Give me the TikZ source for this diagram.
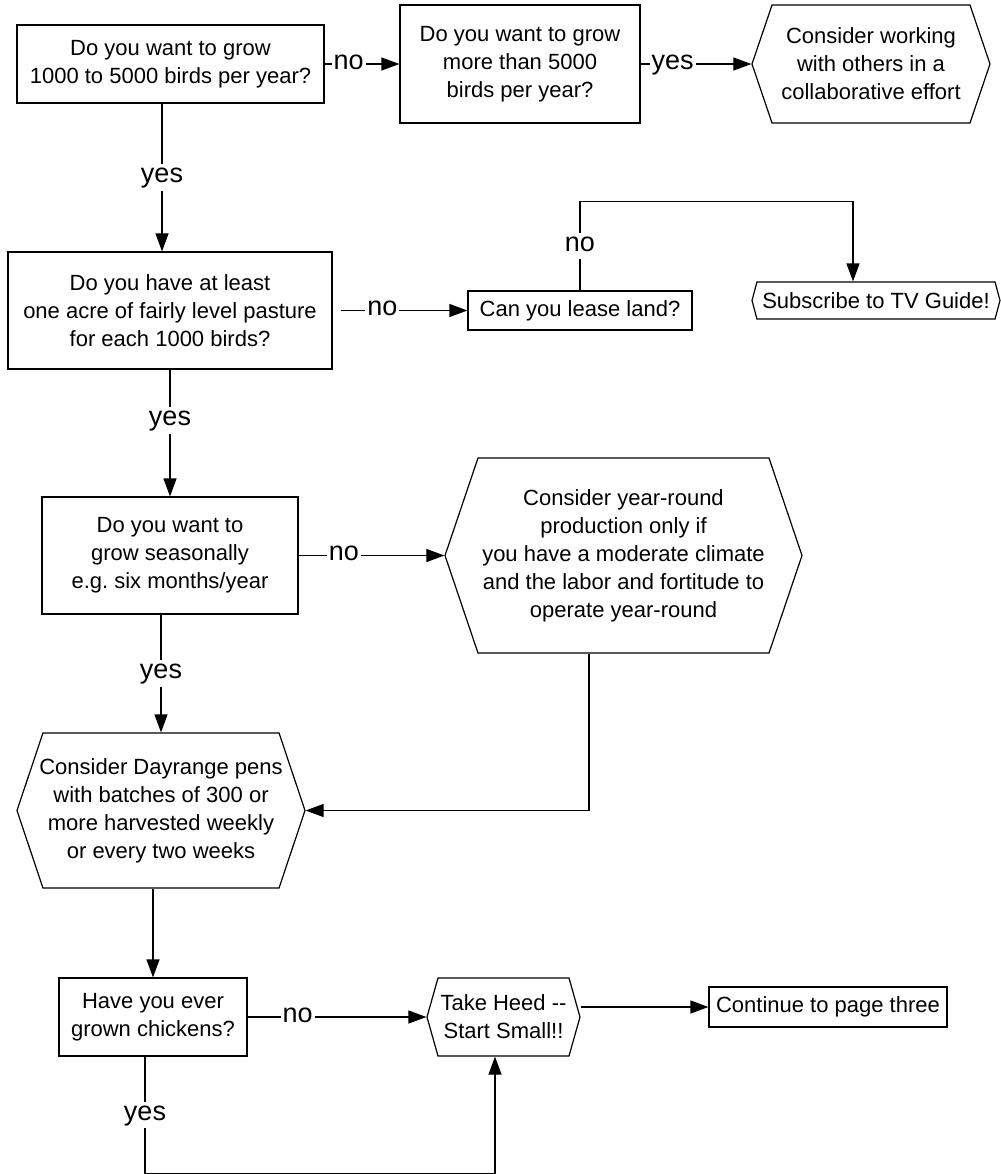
\documentclass[tikz,border=0pt]{standalone}
\usepackage{fontspec}
\setmainfont{Liberation Sans}
\usetikzlibrary{shapes.symbols,arrows.meta}
\frenchspacing

\begin{document}
\begin{tikzpicture}[x=0.5pt,y=-0.5pt,line width=0.6pt,>={Triangle[length=9pt,width=6.5pt]},
	qbox/.style={draw,rectangle,inner sep=0pt,align=center,font=\fontsize{11}{14}\selectfont},
	hexbox/.style={draw,shape=signal,signal to=east and west,inner xsep=-8pt,inner ysep=0pt,align=center,font=\fontsize{11}{14}\selectfont},
	answer/.style={fill=white,text height=1ex,text depth=0pt,inner xsep=1pt,inner ysep=4pt,font=\fontsize{13.5}{16}\selectfont}]

	\useasboundingbox (0,0) rectangle (1001,1174);

	% questions and advice
	\node[qbox,minimum width=153.5pt,minimum height=39pt] (Q1) at (170.5,64) {Do you want to grow\\1000 to 5000 birds per year?};
	\node[qbox,minimum width=120pt,minimum height=59pt] (Q2) at (520,64) {Do you want to grow\\more than 5000\\birds per year?};
	\node[hexbox,signal pointer angle=142.5,minimum width=119pt,minimum height=59pt] (Collab) at (871,64) {Consider working\\with others in a\\collaborative effort};

	\node[qbox,minimum width=162pt,minimum height=58.5pt] (Q3) at (170,310.5) {Do you have at least\\one acre of fairly level pasture\\for each 1000 birds?};
	\node[qbox,minimum width=112pt,minimum height=19.5pt] (Lease) at (580,310.5) {Can you lease land?};
	\node[hexbox,signal pointer angle=150,minimum width=124pt,minimum height=18.5pt] (TV) at (876,300.5) {Subscribe to TV Guide!};

	\node[qbox,minimum width=128pt,minimum height=58.5pt] (Q4) at (170,555.5) {Do you want to\\grow seasonally\\e.g. six months/year};
	\node[hexbox,signal pointer angle=142.6,minimum width=178.5pt,minimum height=97.5pt] (Year) at (623.5,555.5) {Consider year-round\\production only if\\you have a moderate climate\\and the labor and fortitude to\\operate year-round};

	\node[hexbox,signal pointer angle=143,minimum width=144pt,minimum height=77.5pt] (Pens) at (161,810.5) {Consider Dayrange pens\\with batches of 300 or\\more harvested weekly\\or every two weeks};

	\node[qbox,minimum width=94pt,minimum height=39pt] (Q5) at (153,1017) {Have you ever\\grown chickens?};
	\node[hexbox,signal pointer angle=148.5,minimum width=76.5pt,minimum height=39pt] (Heed) at (503.5,1017) {Take Heed {-}{-}\\Start Small!!};
	\node[qbox,minimum width=119pt,minimum height=20pt] (Next) at (828,1007) {Continue to page three};

	% connectors
	\draw[->] (Q1.east) -- node[answer,pos=.32]{no} (Q2.west);
	\draw[->] (Q2.east) -- node[answer,pos=.29]{yes} (Collab.west);
	\draw[->] ([xshift=-4.25pt]Q1.south) -- node[answer]{yes} ([xshift=-4pt]Q3.north);
	\draw[->,shorten <=4pt] (Q3.east) -- node[answer,pos=.37]{no} (Lease.west);
	\draw[->] (Lease.north) -- node[answer]{no} ++(0,-89) -| ([xshift=-11.5pt]TV.north);
	\draw[->] (Q3.south) -- node[answer,pos=.4]{yes} (Q4.north);
	\draw[->] (Q4.east) -- node[answer,pos=.31]{no} (Year.west);
	\draw[->] (Pens.north |- Q4.south) -- node[answer]{yes} (Pens.north);
	\draw[->] ([xshift=-17.25pt]Year.south) |- (Pens.east);
	\draw[->] (Q5.north |- Pens.south) -- (Q5.north);
	\draw[->] (Q5.east) -- node[answer,pos=.28]{no} (Heed.west);
	\draw[->] ([xshift=-4pt]Q5.south) -- node[answer]{yes} ++(0,117) -| ([xshift=-4.25pt]Heed.south);
	\draw[->] (Heed.east |- Next.west) -- (Next.west);
\end{tikzpicture}
\end{document}
